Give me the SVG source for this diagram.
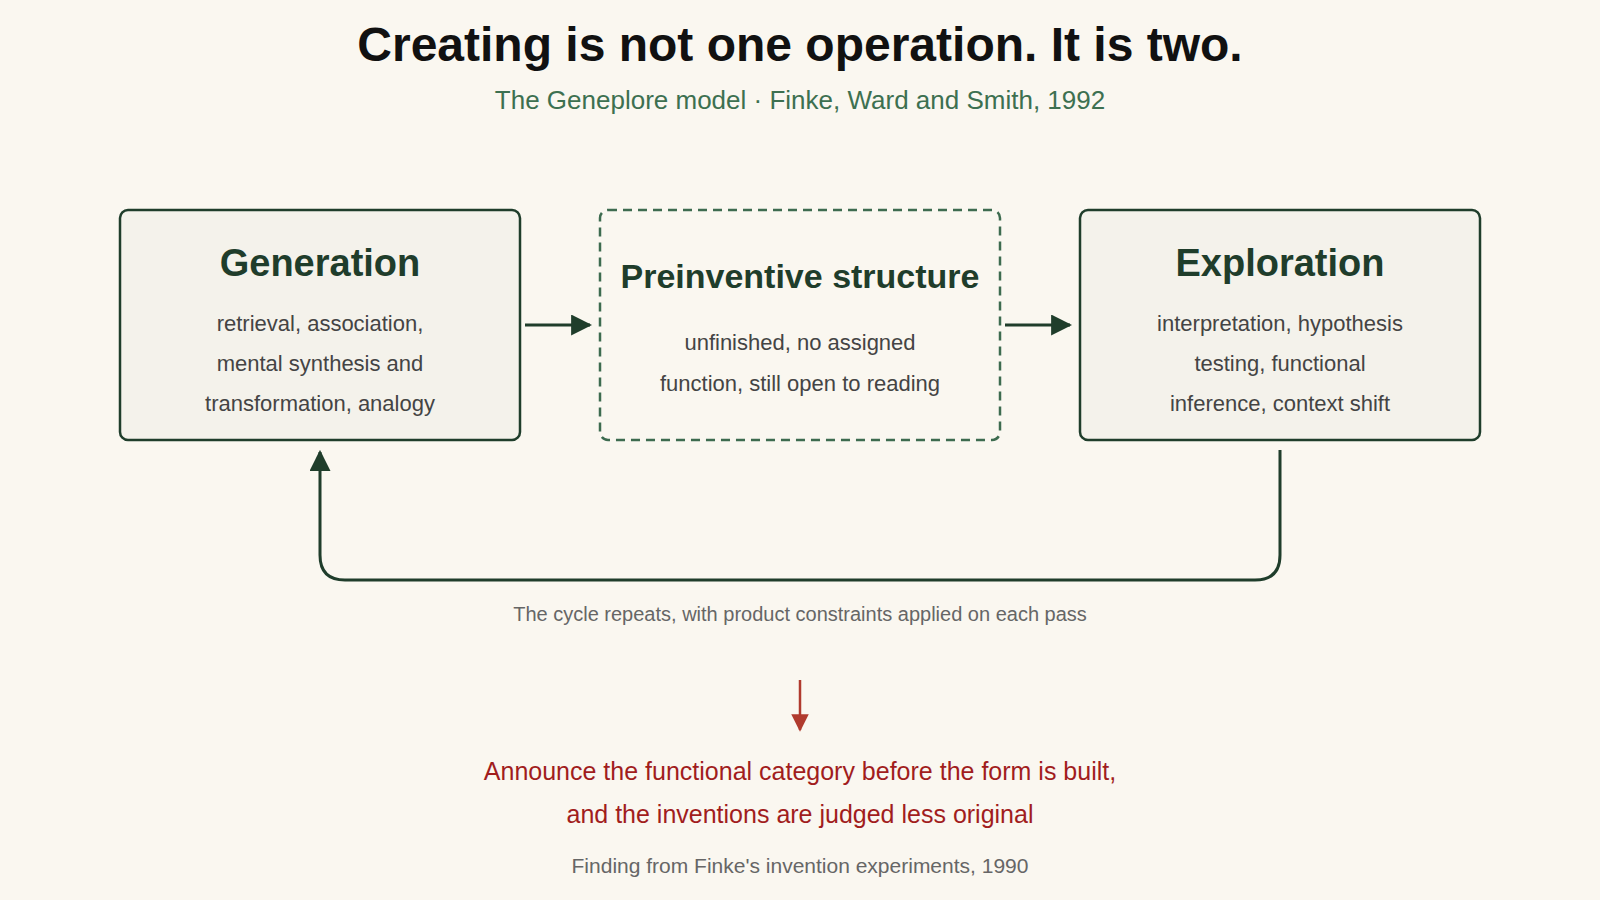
<svg xmlns="http://www.w3.org/2000/svg" width="1600" height="900" viewBox="0 0 1600 900">
<defs>
<style>
text{font-family:"Liberation Sans",Arial,sans-serif;text-anchor:middle}
.box{fill:#f4f2eb;stroke:#1f3d2b;stroke-width:2.5}
.dash{fill:none;stroke:#3d6b4f;stroke-width:2.5;stroke-dasharray:9 6}
.ht{font-size:38px;font-weight:bold;fill:#1f3d2b}
.bt{font-size:22px;fill:#444}
.con{fill:none;stroke:#1f3d2b;stroke-width:3}
</style>
<marker id="ah" viewBox="0 0 10 10" refX="9" refY="5" markerWidth="7" markerHeight="7" markerUnits="userSpaceOnUse" orient="auto"><path d="M0,0L10,5L0,10z" fill="#1f3d2b"/></marker>
<marker id="ahl" viewBox="0 0 10 10" refX="9" refY="5" markerWidth="7" markerHeight="7" orient="auto"><path d="M0,0L10,5L0,10z" fill="#1f3d2b"/></marker>
<marker id="ahr" viewBox="0 0 10 10" refX="9" refY="5" markerWidth="7" markerHeight="7" orient="auto"><path d="M0,0L10,5L0,10z" fill="#b03a2e"/></marker>
</defs>
<rect width="1600" height="900" fill="#faf7f0"/>
<text x="800" y="61" font-size="48" font-weight="bold" fill="#111">Creating is not one operation. It is two.</text>
<text x="800" y="109" font-size="26" fill="#3d7050">The Geneplore model · Finke, Ward and Smith, 1992</text>
<g id="generation">
<rect class="box" x="120" y="210" width="400" height="230" rx="8"/>
<text class="ht" x="320" y="276">Generation</text>
<text class="bt" x="320" y="331">retrieval, association,</text>
<text class="bt" x="320" y="371">mental synthesis and</text>
<text class="bt" x="320" y="411">transformation, analogy</text>
</g>
<g id="preinventive">
<rect class="dash" x="600" y="210" width="400" height="230" rx="8"/>
<text x="800" y="288" font-size="34" font-weight="bold" fill="#1f3d2b">Preinventive structure</text>
<text class="bt" x="800" y="350">unfinished, no assigned</text>
<text class="bt" x="800" y="391">function, still open to reading</text>
</g>
<g id="exploration">
<rect class="box" x="1080" y="210" width="400" height="230" rx="8"/>
<text class="ht" x="1280" y="276">Exploration</text>
<text class="bt" x="1280" y="331">interpretation, hypothesis</text>
<text class="bt" x="1280" y="371">testing, functional</text>
<text class="bt" x="1280" y="411">inference, context shift</text>
</g>
<g id="connectors">
<path class="con" d="M525,325H590" marker-end="url(#ahl)"/>
<path class="con" d="M1005,325H1070" marker-end="url(#ahl)"/>
<path class="con" d="M1280,450V555Q1280,580 1255,580H345Q320,580 320,555V452" marker-end="url(#ahl)"/>
<path d="M800,680V730" fill="none" stroke="#b03a2e" stroke-width="2.5" marker-end="url(#ahr)"/>
</g>
<text x="800" y="621" font-size="20" fill="#666">The cycle repeats, with product constraints applied on each pass</text>
<text x="800" y="780" font-size="25" fill="#a11d1d">Announce the functional category before the form is built,</text>
<text x="800" y="823" font-size="25" fill="#a11d1d">and the inventions are judged less original</text>
<text x="800" y="873" font-size="21" fill="#666">Finding from Finke's invention experiments, 1990</text>
</svg>
